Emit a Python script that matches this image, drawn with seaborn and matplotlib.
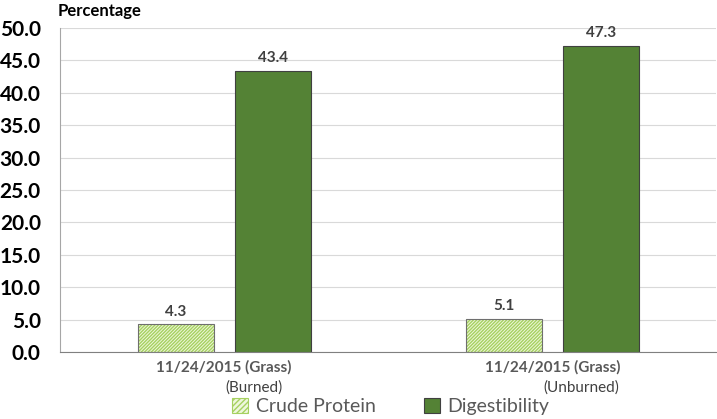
import matplotlib
matplotlib.use("Agg")
import matplotlib.pyplot as plt
import matplotlib.transforms as mtransforms
from matplotlib.patches import Rectangle
import pandas as pd
import seaborn as sns

# data
categories = ["11/24/2015 (Grass)|(Burned)", "11/24/2015 (Grass)|(Unburned)"]
series = ["Crude Protein", "Digestibility"]
crude_protein = [4.3, 5.1]
digestibility = [43.4, 47.3]

df = pd.DataFrame({
    "cat": categories * 2,
    "series": [series[0]] * 2 + [series[1]] * 2,
    "value": crude_protein + digestibility,
})

sns.set_style("white")
plt.rcParams["font.family"] = ["Lato", "DejaVu Sans"]
plt.rcParams["hatch.linewidth"] = 1.0

hatch_green = "#a6d160"
colors = {"Crude Protein": "#eef7dc", "Digestibility": "#548235"}

fig = plt.figure(figsize=(7.17, 4.19), dpi=100)
ax = fig.add_axes([0.084, 0.16, 0.915, 0.773])

sns.barplot(data=df, x="cat", y="value", hue="series", palette=colors,
            saturation=1, width=0.59, gap=0.215, ax=ax, edgecolor="#404040",
            linewidth=0.8, legend=True)

# hatch the crude protein bars (hatch colour follows the edge colour,
# so draw the grey outline as a separate patch)
for bar in ax.containers[0]:
    bar.set_hatch("//////////")
    bar.set_edgecolor(hatch_green)
    bar.set_linewidth(0)
    ax.add_patch(Rectangle(bar.get_xy(), bar.get_width(), bar.get_height(),
                           fill=False, edgecolor="#6f6f6f", linewidth=0.8,
                           zorder=bar.get_zorder() + 0.1))
for c in ax.containers:
    ax.bar_label(c, fmt="%.1f", padding=4, fontsize=11, fontweight="bold",
                 color="#404040")

ax.set_ylim(0, 50)
ax.set_yticks(range(0, 51, 5))
ax.set_yticklabels([f"{v:.1f}" for v in range(0, 51, 5)], fontsize=15,
                   fontweight="bold", color="#000000")
ax.yaxis.grid(True, color="#d9d9d9", linewidth=0.8)
ax.set_axisbelow(True)

# two-line category labels, first line bold
ax.set_xticks([0, 1])
ax.set_xticklabels([c.split("|")[0] for c in categories], fontsize=11,
                   fontweight="bold", color="#595959")
ax.tick_params(axis="x", length=0, pad=6)
ax.tick_params(axis="y", length=0, pad=14)
trans = mtransforms.blended_transform_factory(ax.transData, ax.transAxes)
for i, c in enumerate(categories):
    ax.text(i + 0.09, -0.088, c.split("|")[1], transform=trans, ha="center",
            va="top", fontsize=11, color="#404040")

ax.set_xlabel("")
ax.set_ylabel("")
for s in ["top", "right"]:
    ax.spines[s].set_visible(False)
ax.spines["left"].set_color("#a6a6a6")
ax.spines["bottom"].set_color("#808080")

fig.text(0.081, 0.993, "Percentage", fontsize=12, fontweight="bold",
         ha="left", va="top", color="#000000")

handles, labels = ax.get_legend_handles_labels()
ax.get_legend().remove()
handles[0].set_hatch("//////")
handles[0].set_edgecolor(hatch_green)
leg = fig.legend(handles, labels, loc="center", bbox_to_anchor=(0.545, 0.03),
                 ncol=2, frameon=False, fontsize=14, handlelength=0.8,
                 handleheight=0.8, columnspacing=2.5, handletextpad=0.4,
                 borderpad=0.1)
for t in leg.get_texts():
    t.set_color("#595959")

fig.savefig("out.png", dpi=100)
